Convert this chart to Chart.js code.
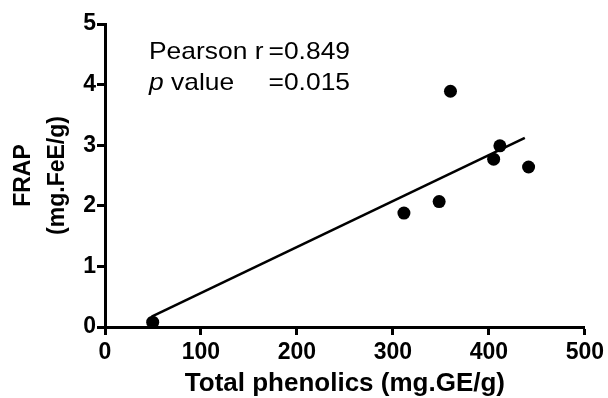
<!DOCTYPE html>
<html>
<head>
<meta charset="utf-8">
<script src="https://cdn.jsdelivr.net/npm/chart.js@4.4.1/dist/chart.umd.min.js"></script>
<style>
html,body{margin:0;padding:0;background:#fff;}
canvas{display:block;}
</style>
</head>
<body>
<canvas id="c" width="608" height="398"></canvas>
<script>
// ---- data ----
const phenolics = [49.7, 311.5, 348.2, 360, 405, 411.5, 441.4];
const frap      = [0.08, 1.88, 2.07, 3.89, 2.77, 2.99, 2.64];
const fitX = [48.6, 437.5];
const fitY = [0.17, 3.12];
const xTickValues = [0, 100, 200, 300, 400, 500];
const yTickValues = [0, 1, 2, 3, 4, 5];
const xTitle = 'Total phenolics (mg.GE/g)';
const yTitle = ['FRAP', '(mg.FeE/g)'];
const statLine1 = ['Pearson r', '=0.849'];
const statLine2 = ['p', ' value', '=0.015'];

const FONT = '"Liberation Sans", Arial, Helvetica, sans-serif';

const statsPlugin = {
  id: 'stats',
  afterDraw(chart) {
    const ctx = chart.ctx;
    const sx = 1.1;
    ctx.save();
    ctx.fillStyle = '#000';
    ctx.textBaseline = 'alphabetic';
    const draw = (txt, x, y, font, align) => {
      ctx.save();
      ctx.font = font;
      ctx.translate(x, y);
      ctx.scale(sx, 1);
      ctx.textAlign = align || 'left';
      ctx.fillText(txt, 0, 0);
      const w = ctx.measureText(txt).width * sx;
      ctx.restore();
      return w;
    };
    const reg = '24px ' + FONT;
    const ital = 'italic 24px ' + FONT;
    draw(statLine1[0], 149, 59, reg);
    draw(statLine1[1], 350, 59, reg, 'right');
    const wp = draw(statLine2[0], 149, 90, ital);
    draw(statLine2[1], 149 + wp, 90, reg);
    draw(statLine2[2], 350, 90, reg, 'right');
    ctx.restore();
  }
};

const axisCommon = (vals) => ({
  type: 'linear',
  min: vals[0],
  max: vals[vals.length - 1],
  afterBuildTicks(scale) { scale.ticks = vals.map(v => ({ value: v })); },
  grid: { display: true, drawOnChartArea: false, drawTicks: true, tickLength: 8, tickWidth: 3, tickColor: '#000' },
  border: { display: true, color: '#000', width: 3 },
});

new Chart(document.getElementById('c'), {
  type: 'scatter',
  data: {
    datasets: [
      {
        label: 'data',
        data: phenolics.map((x, i) => ({ x: x, y: frap[i] })),
        backgroundColor: '#000',
        borderWidth: 0,
        pointRadius: 6.5,
        pointHoverRadius: 6.5,
        clip: false
      },
      {
        label: 'fit',
        type: 'line',
        data: fitX.map((x, i) => ({ x: x, y: fitY[i] })),
        borderColor: '#000',
        borderWidth: 2.6,
        pointRadius: 0,
        fill: false,
        tension: 0
      }
    ]
  },
  options: {
    responsive: false,
    animation: false,
    devicePixelRatio: 1,
    layout: { padding: { top: 24, right: 23, left: 0, bottom: 0 } },
    plugins: { legend: { display: false }, tooltip: { enabled: false } },
    scales: {
      x: Object.assign(axisCommon(xTickValues), {
        position: 'bottom',
        afterFit(scale) { scale.height = 71; },
        ticks: { color: '#000', padding: 4, font: { family: FONT, size: 23, weight: 'bold' } },
        title: { display: true, text: xTitle, color: '#000', padding: { top: 0, bottom: 1 },
                 font: { family: FONT, size: 26, weight: 'bold', lineHeight: 1.0 } }
      }),
      y: Object.assign(axisCommon(yTickValues), {
        position: 'left',
        afterFit(scale) { scale.width = 105; },
        ticks: { color: '#000', padding: 1, font: { family: FONT, size: 23, weight: 'bold' } },
        title: { display: true, text: yTitle, color: '#000', padding: { top: 7, bottom: 0 },
                 font: { family: FONT, size: 23, weight: 'bold', lineHeight: 1.48 } }
      })
    }
  },
  plugins: [statsPlugin]
});
</script>
</body>
</html>
